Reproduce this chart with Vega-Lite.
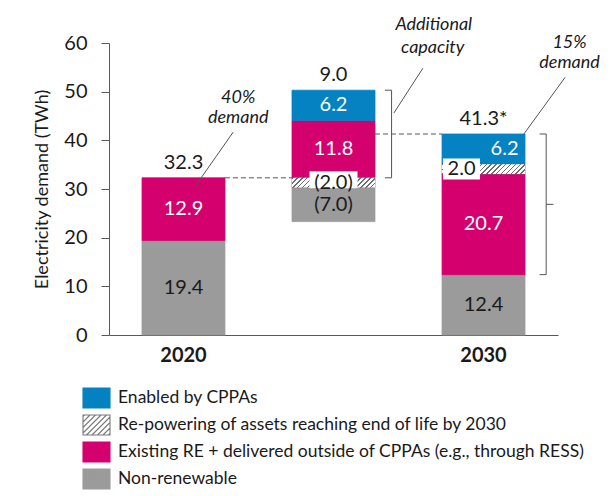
{
  "$schema": "https://vega.github.io/schema/vega-lite/v6.json",
  "width": 449,
  "height": 292,
  "autosize": {"type": "none"},
  "padding": {"left": 109, "top": 43, "right": 54, "bottom": 161},
  "background": "white",
  "config": {
    "view": {"stroke": null},
    "font": "Lato",
    "axisY": {"grid": false, "tickSize": 8, "labelPadding": 14, "labelFontSize": 20, "labelFont": "Lato", "labelColor": "#1a1a1a", "domainColor": "#595959", "tickColor": "#595959", "titleFont": "Lato", "titleFontSize": 18, "titleFontWeight": "normal", "titleColor": "#1a1a1a", "titleX": -67, "titleY": 146, "titleAngle": -90, "titleAlign": "center", "titleBaseline": "middle", "tickCount": 6},
    "axisX": {"ticks": false, "labelFont": "Lato", "labelFontSize": 20, "labelFontWeight": "bold", "labelColor": "#1a1a1a", "labelPadding": 10, "domainColor": "#595959", "labelAngle": 0, "grid": false}
  },
  "datasets": {
    "segs": [
      {"cat": "2020", "series": "Non-renewable", "y0": 0, "y1": 19.4, "t": "19.4"},
      {"cat": "2020", "series": "Existing RE + delivered outside of CPPAs (e.g., through RESS)", "y0": 19.4, "y1": 32.3, "t": "12.9"},
      {"cat": "mid", "series": "Non-renewable", "y0": 23.3, "y1": 30.3, "t": "(7.0)"},
      {"cat": "mid", "series": "Re-powering of assets reaching end of life by 2030", "y0": 30.3, "y1": 32.3, "t": "(2.0)"},
      {"cat": "mid", "series": "Existing RE + delivered outside of CPPAs (e.g., through RESS)", "y0": 32.3, "y1": 44.1, "t": "11.8"},
      {"cat": "mid", "series": "Enabled by CPPAs", "y0": 44.1, "y1": 50.3, "t": "6.2"},
      {"cat": "2030", "series": "Non-renewable", "y0": 0, "y1": 12.4, "t": "12.4"},
      {"cat": "2030", "series": "Existing RE + delivered outside of CPPAs (e.g., through RESS)", "y0": 12.4, "y1": 33.1, "t": "20.7"},
      {"cat": "2030", "series": "Re-powering of assets reaching end of life by 2030", "y0": 33.1, "y1": 35.1, "t": "2.0"},
      {"cat": "2030", "series": "Enabled by CPPAs", "y0": 35.1, "y1": 41.3, "t": "6.2"}
    ],
    "totals": [
      {"cat": "2020", "v": 32.3, "t": "32.3"},
      {"cat": "mid", "v": 50.3, "t": "9.0"},
      {"cat": "2030", "v": 41.3, "t": "41.3*"}
    ],
    "conn": [
      {"from": "2020", "to": "mid", "v": 32.3},
      {"from": "mid", "to": "2030", "v": 41.3}
    ],
    "annlines": [
      {"kind": "leader", "xa": 0.33, "ya": 41.7, "xb": 0.077, "yb": 30.6},
      {"kind": "leader", "xa": 1.597, "ya": 54.8, "xb": 1.403, "yb": 45.6},
      {"kind": "leader", "xa": 2.548, "ya": 52.96, "xb": 2.272, "yb": 41.3},
      {"kind": "bracket", "xa": 1.343, "ya": 50.3, "xb": 1.388, "yb": 50.3},
      {"kind": "bracket", "xa": 1.388, "ya": 50.3, "xb": 1.388, "yb": 32.3},
      {"kind": "bracket", "xa": 1.343, "ya": 32.3, "xb": 1.388, "yb": 32.3},
      {"kind": "bracket", "xa": 2.377, "ya": 41.3, "xb": 2.421, "yb": 41.3},
      {"kind": "bracket", "xa": 2.421, "ya": 41.3, "xb": 2.421, "yb": 12.4},
      {"kind": "bracket", "xa": 2.377, "ya": 12.4, "xb": 2.421, "yb": 12.4},
      {"kind": "bracket", "xa": 2.421, "ya": 26.85, "xb": 2.47, "yb": 26.85}
    ],
    "anntext": [
      {"x": 0.363, "y": 48.6, "t": "40%"},
      {"x": 0.363, "y": 44.5, "t": "demand"},
      {"x": 1.67, "y": 63.8, "t": "Additional"},
      {"x": 1.663, "y": 58.9, "t": "capacity"},
      {"x": 2.577, "y": 60.1, "t": "15%"},
      {"x": 2.577, "y": 55.8, "t": "demand"}
    ]
  },
  "layer": [
    {
      "layer": [
        {
          "data": {"name": "segs"},
          "mark": {"type": "bar", "strokeWidth": 0.8},
          "encoding": {
            "x": {
              "field": "cat", "type": "nominal", "title": null,
              "scale": {"domain": ["2020", "mid", "2030"], "paddingInner": 0.447, "paddingOuter": 0.22},
              "axis": {"labelExpr": "datum.value == 'mid' ? '' : datum.value"}
            },
            "y": {
              "field": "y0", "type": "quantitative", "title": "Electricity demand (TWh)",
              "scale": {"domain": [0, 60], "nice": false}
            },
            "y2": {"field": "y1"},
            "fill": {
              "field": "series", "type": "nominal",
              "scale": {
                "domain": ["Enabled by CPPAs", "Re-powering of assets reaching end of life by 2030", "Existing RE + delivered outside of CPPAs (e.g., through RESS)", "Non-renewable"],
                "range": ["#0482c2", "#ffffff", "#d4006e", "#9b9b9b"]
              },
              "legend": {
                "orient": "none", "legendX": -23.5, "legendY": 344, "title": null,
                "symbolType": "M-1.35,-1L1.35,-1L1.35,1L-1.35,1Z M-1.35,-0.85L-1.2,-1 M-1.35,-0.3L-0.65,-1 M-1.35,0.25L-0.1,-1 M-1.35,0.8L0.45,-1 M-1,1L1,-1 M-0.45,1L1.35,-0.8 M0.1,1L1.35,-0.25 M0.65,1L1.35,0.3 M1.2,1L1.35,0.85",
                "symbolSize": 400, "symbolStrokeWidth": 1.1, "symbolOpacity": 1,
                "labelFont": "Lato", "labelFontSize": 17.5, "labelColor": "#1a1a1a", "labelLimit": 600,
                "rowPadding": 1, "labelOffset": 10.5, "padding": 0
              }
            },
            "stroke": {
              "field": "series", "type": "nominal",
              "scale": {
                "domain": ["Enabled by CPPAs", "Re-powering of assets reaching end of life by 2030", "Existing RE + delivered outside of CPPAs (e.g., through RESS)", "Non-renewable"],
                "range": ["#0482c2", "#7a7a7a", "#d4006e", "#9b9b9b"]
              },
              "legend": {
                "orient": "none", "legendX": -23.5, "legendY": 344, "title": null,
                "symbolType": "M-1.35,-1L1.35,-1L1.35,1L-1.35,1Z M-1.35,-0.85L-1.2,-1 M-1.35,-0.3L-0.65,-1 M-1.35,0.25L-0.1,-1 M-1.35,0.8L0.45,-1 M-1,1L1,-1 M-0.45,1L1.35,-0.8 M0.1,1L1.35,-0.25 M0.65,1L1.35,0.3 M1.2,1L1.35,0.85",
                "symbolSize": 400, "symbolStrokeWidth": 1.1, "symbolOpacity": 1,
                "labelFont": "Lato", "labelFontSize": 17.5, "labelColor": "#1a1a1a", "labelLimit": 600,
                "rowPadding": 1, "labelOffset": 10.5, "padding": 0
              }
            }
          }
        },
        {
          "data": {"name": "segs"},
          "transform": [{"filter": "datum.series == 'Re-powering of assets reaching end of life by 2030'"}],
          "mark": {"type": "bar", "strokeWidth": 0, "fill": {"gradient": "linear", "x1": 0, "y1": 0, "x2": 1.1, "y2": 0.129, "stops": [
            {"offset": 0, "color": "#6e6e6e"}, {"offset": 0.016, "color": "#6e6e6e"}, {"offset": 0.016, "color": "#ffffff"},
            {"offset": 0.0526, "color": "#ffffff"}, {"offset": 0.0526, "color": "#6e6e6e"}, {"offset": 0.0686, "color": "#6e6e6e"}, {"offset": 0.0686, "color": "#ffffff"},
            {"offset": 0.1053, "color": "#ffffff"}, {"offset": 0.1053, "color": "#6e6e6e"}, {"offset": 0.1213, "color": "#6e6e6e"}, {"offset": 0.1213, "color": "#ffffff"},
            {"offset": 0.1579, "color": "#ffffff"}, {"offset": 0.1579, "color": "#6e6e6e"}, {"offset": 0.1739, "color": "#6e6e6e"}, {"offset": 0.1739, "color": "#ffffff"},
            {"offset": 0.2105, "color": "#ffffff"}, {"offset": 0.2105, "color": "#6e6e6e"}, {"offset": 0.2265, "color": "#6e6e6e"}, {"offset": 0.2265, "color": "#ffffff"},
            {"offset": 0.2632, "color": "#ffffff"}, {"offset": 0.2632, "color": "#6e6e6e"}, {"offset": 0.2792, "color": "#6e6e6e"}, {"offset": 0.2792, "color": "#ffffff"},
            {"offset": 0.3158, "color": "#ffffff"}, {"offset": 0.3158, "color": "#6e6e6e"}, {"offset": 0.3318, "color": "#6e6e6e"}, {"offset": 0.3318, "color": "#ffffff"},
            {"offset": 0.3684, "color": "#ffffff"}, {"offset": 0.3684, "color": "#6e6e6e"}, {"offset": 0.3844, "color": "#6e6e6e"}, {"offset": 0.3844, "color": "#ffffff"},
            {"offset": 0.4211, "color": "#ffffff"}, {"offset": 0.4211, "color": "#6e6e6e"}, {"offset": 0.4371, "color": "#6e6e6e"}, {"offset": 0.4371, "color": "#ffffff"},
            {"offset": 0.4737, "color": "#ffffff"}, {"offset": 0.4737, "color": "#6e6e6e"}, {"offset": 0.4897, "color": "#6e6e6e"}, {"offset": 0.4897, "color": "#ffffff"},
            {"offset": 0.5263, "color": "#ffffff"}, {"offset": 0.5263, "color": "#6e6e6e"}, {"offset": 0.5423, "color": "#6e6e6e"}, {"offset": 0.5423, "color": "#ffffff"},
            {"offset": 0.5789, "color": "#ffffff"}, {"offset": 0.5789, "color": "#6e6e6e"}, {"offset": 0.5949, "color": "#6e6e6e"}, {"offset": 0.5949, "color": "#ffffff"},
            {"offset": 0.6316, "color": "#ffffff"}, {"offset": 0.6316, "color": "#6e6e6e"}, {"offset": 0.6476, "color": "#6e6e6e"}, {"offset": 0.6476, "color": "#ffffff"},
            {"offset": 0.6842, "color": "#ffffff"}, {"offset": 0.6842, "color": "#6e6e6e"}, {"offset": 0.7002, "color": "#6e6e6e"}, {"offset": 0.7002, "color": "#ffffff"},
            {"offset": 0.7368, "color": "#ffffff"}, {"offset": 0.7368, "color": "#6e6e6e"}, {"offset": 0.7528, "color": "#6e6e6e"}, {"offset": 0.7528, "color": "#ffffff"},
            {"offset": 0.7895, "color": "#ffffff"}, {"offset": 0.7895, "color": "#6e6e6e"}, {"offset": 0.8055, "color": "#6e6e6e"}, {"offset": 0.8055, "color": "#ffffff"},
            {"offset": 0.8421, "color": "#ffffff"}, {"offset": 0.8421, "color": "#6e6e6e"}, {"offset": 0.8581, "color": "#6e6e6e"}, {"offset": 0.8581, "color": "#ffffff"},
            {"offset": 0.8947, "color": "#ffffff"}, {"offset": 0.8947, "color": "#6e6e6e"}, {"offset": 0.9107, "color": "#6e6e6e"}, {"offset": 0.9107, "color": "#ffffff"},
            {"offset": 0.9474, "color": "#ffffff"}, {"offset": 0.9474, "color": "#6e6e6e"}, {"offset": 0.9634, "color": "#6e6e6e"}, {"offset": 0.9634, "color": "#ffffff"},
            {"offset": 1, "color": "#ffffff"}
          ]}},
          "encoding": {
            "x": {"field": "cat", "type": "nominal", "title": null, "scale": {"domain": ["2020", "mid", "2030"], "paddingInner": 0.447, "paddingOuter": 0.22}},
            "y": {"field": "y0", "type": "quantitative", "title": "Electricity demand (TWh)", "scale": {"domain": [0, 60], "nice": false}},
            "y2": {"field": "y1"}
          }
        },
        {
          "data": {"name": "conn"},
          "mark": {"type": "rule", "strokeDash": [5, 3], "color": "#595959", "strokeWidth": 1},
          "encoding": {
            "x": {"field": "from", "type": "nominal", "title": null, "bandPosition": 1, "scale": {"domain": ["2020", "mid", "2030"], "paddingInner": 0.447, "paddingOuter": 0.22}},
            "x2": {"field": "to", "bandPosition": 0},
            "y": {"field": "v", "type": "quantitative", "title": "Electricity demand (TWh)", "scale": {"domain": [0, 60], "nice": false}}
          }
        },
        {
          "data": {"name": "segs"},
          "transform": [
            {"filter": "datum.cat == 'mid' && datum.series == 'Re-powering of assets reaching end of life by 2030'"},
            {"calculate": "(datum.y0 + datum.y1) / 2", "as": "ym"}
          ],
          "mark": {"type": "rect", "fill": "white", "width": 48, "height": 17, "yOffset": -3},
          "encoding": {
            "x": {"field": "cat", "type": "nominal", "title": null, "scale": {"domain": ["2020", "mid", "2030"], "paddingInner": 0.447, "paddingOuter": 0.22}},
            "y": {"field": "ym", "type": "quantitative", "title": "Electricity demand (TWh)", "scale": {"domain": [0, 60], "nice": false}}
          }
        },
        {
          "data": {"name": "segs"},
          "transform": [
            {"filter": "datum.cat == '2030' && datum.series == 'Re-powering of assets reaching end of life by 2030'"},
            {"calculate": "(datum.y0 + datum.y1) / 2", "as": "ym"}
          ],
          "mark": {"type": "rect", "fill": "white", "width": 37, "height": 21, "xOffset": -22},
          "encoding": {
            "x": {"field": "cat", "type": "nominal", "title": null, "scale": {"domain": ["2020", "mid", "2030"], "paddingInner": 0.447, "paddingOuter": 0.22}},
            "y": {"field": "ym", "type": "quantitative", "title": "Electricity demand (TWh)", "scale": {"domain": [0, 60], "nice": false}}
          }
        },
        {
          "data": {"name": "segs"},
          "transform": [
            {"filter": "!(datum.cat == '2030' && (datum.series == 'Enabled by CPPAs' || datum.series == 'Re-powering of assets reaching end of life by 2030'))"},
            {"calculate": "(datum.y0 + datum.y1) / 2", "as": "ym"}
          ],
          "mark": {"type": "text", "font": "Lato", "fontSize": 20},
          "encoding": {
            "x": {"field": "cat", "type": "nominal", "title": null, "scale": {"domain": ["2020", "mid", "2030"], "paddingInner": 0.447, "paddingOuter": 0.22}},
            "y": {"field": "ym", "type": "quantitative", "title": "Electricity demand (TWh)", "scale": {"domain": [0, 60], "nice": false}},
            "text": {"field": "t"},
            "color": {"field": "series", "type": "nominal", "scale": {"domain": ["Enabled by CPPAs", "Re-powering of assets reaching end of life by 2030", "Existing RE + delivered outside of CPPAs (e.g., through RESS)", "Non-renewable"], "range": ["#ffffff", "#1a1a1a", "#ffffff", "#1a1a1a"]}, "legend": null}
          }
        },
        {
          "data": {"name": "segs"},
          "transform": [
            {"filter": "datum.cat == '2030' && datum.series == 'Re-powering of assets reaching end of life by 2030'"},
            {"calculate": "(datum.y0 + datum.y1) / 2", "as": "ym"}
          ],
          "mark": {"type": "text", "font": "Lato", "fontSize": 20, "xOffset": -22, "color": "#1a1a1a"},
          "encoding": {
            "x": {"field": "cat", "type": "nominal", "title": null, "scale": {"domain": ["2020", "mid", "2030"], "paddingInner": 0.447, "paddingOuter": 0.22}},
            "y": {"field": "ym", "type": "quantitative", "title": "Electricity demand (TWh)", "scale": {"domain": [0, 60], "nice": false}},
            "text": {"field": "t"}
          }
        },
        {
          "data": {"name": "segs"},
          "transform": [
            {"filter": "datum.cat == '2030' && datum.series == 'Enabled by CPPAs'"},
            {"calculate": "(datum.y0 + datum.y1) / 2", "as": "ym"}
          ],
          "mark": {"type": "text", "font": "Lato", "fontSize": 20, "xOffset": 35, "align": "right", "color": "#ffffff"},
          "encoding": {
            "x": {"field": "cat", "type": "nominal", "title": null, "scale": {"domain": ["2020", "mid", "2030"], "paddingInner": 0.447, "paddingOuter": 0.22}},
            "y": {"field": "ym", "type": "quantitative", "title": "Electricity demand (TWh)", "scale": {"domain": [0, 60], "nice": false}},
            "text": {"field": "t"}
          }
        },
        {
          "data": {"name": "totals"},
          "mark": {"type": "text", "font": "Lato", "fontSize": 20, "dy": -15, "color": "#1a1a1a"},
          "encoding": {
            "x": {"field": "cat", "type": "nominal", "title": null, "scale": {"domain": ["2020", "mid", "2030"], "paddingInner": 0.447, "paddingOuter": 0.22}},
            "y": {"field": "v", "type": "quantitative", "title": "Electricity demand (TWh)", "scale": {"domain": [0, 60], "nice": false}},
            "text": {"field": "t"}
          }
        }
      ]
    },
    {
      "layer": [
        {
          "data": {"name": "annlines"},
          "mark": {"type": "rule", "strokeWidth": 1, "color": "#555555"},
          "encoding": {
            "x": {"field": "xa", "type": "quantitative", "scale": {"domain": [-0.5, 2.5], "nice": false, "zero": false}, "axis": null},
            "x2": {"field": "xb"},
            "y": {"field": "ya", "type": "quantitative", "title": "Electricity demand (TWh)", "scale": {"domain": [0, 60], "nice": false}},
            "y2": {"field": "yb"}
          }
        },
        {
          "data": {"name": "anntext"},
          "mark": {"type": "text", "font": "Lato", "fontSize": 18, "fontStyle": "italic", "color": "#1a1a1a"},
          "encoding": {
            "x": {"field": "x", "type": "quantitative", "scale": {"domain": [-0.5, 2.5], "nice": false, "zero": false}, "axis": null},
            "y": {"field": "y", "type": "quantitative", "title": "Electricity demand (TWh)", "scale": {"domain": [0, 60], "nice": false}},
            "text": {"field": "t"}
          }
        }
      ]
    }
  ],
  "resolve": {"scale": {"x": "independent"}}
}
